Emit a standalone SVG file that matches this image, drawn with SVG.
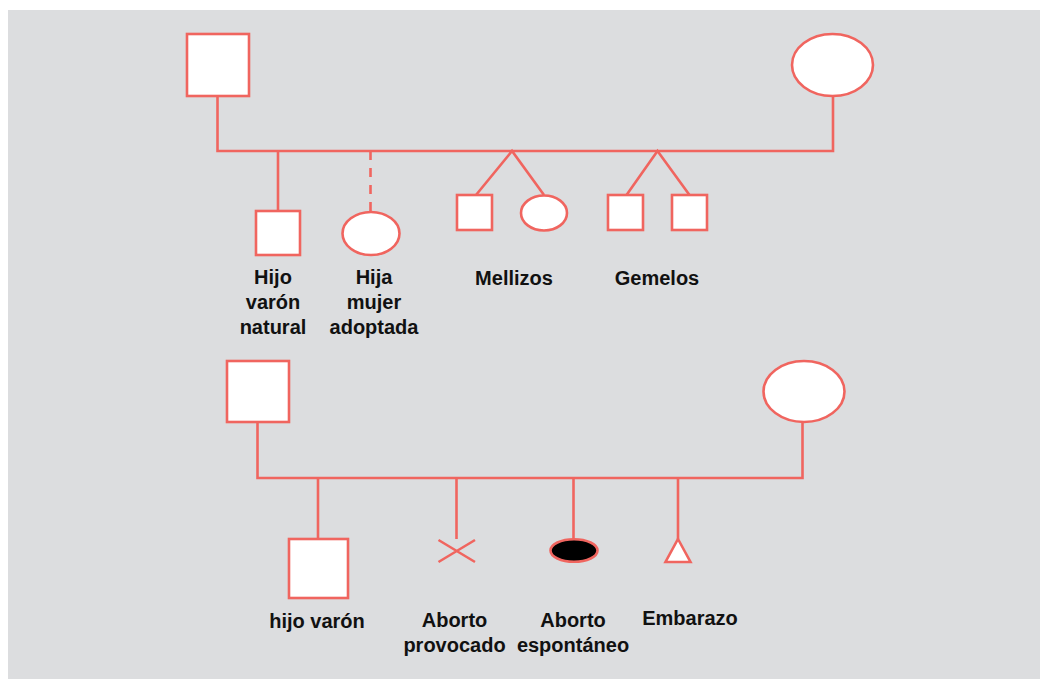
<svg xmlns="http://www.w3.org/2000/svg" width="1040" height="679" viewBox="0 0 1040 679">
<style>
.s{fill:#ffffff;stroke:#F0655F;stroke-width:2.6}
.c{fill:none;stroke:#F0655F;stroke-width:2.6}
.t{font-family:"Liberation Sans",Arial,sans-serif;font-weight:bold;font-size:20px;fill:#111111;text-anchor:middle}
</style>
<rect x="0" y="0" width="1040" height="679" fill="#ffffff"/>
<rect x="8" y="10" width="1032" height="669" fill="#DCDDDF"/>
<g id="connectors">
<polyline class="c" points="217.5,96 217.5,151 833,151 833,96"/>
<line class="c" x1="278" y1="151" x2="278" y2="211"/>
<line class="c" x1="370.5" y1="151" x2="370.5" y2="211" stroke-dasharray="9 8"/>
<polyline class="c" points="476,195 512,151 544,195"/>
<polyline class="c" points="626.5,195 657.5,151 689.5,195"/>
<polyline class="c" points="257.5,423 257.5,478 802.5,478 802.5,422"/>
<line class="c" x1="318" y1="478" x2="318" y2="539"/>
<line class="c" x1="456.5" y1="478" x2="456.5" y2="539"/>
<line class="c" x1="573.5" y1="478" x2="573.5" y2="539"/>
<line class="c" x1="678" y1="478" x2="678" y2="539"/>
</g>
<g id="father1"><rect class="s" x="187" y="34" width="62" height="62"/></g>
<g id="mother1"><ellipse class="s" cx="832.5" cy="65" rx="40.5" ry="31"/></g>
<g id="hijo-natural"><rect class="s" x="256" y="211" width="44" height="44"/>
<text class="t" x="273" y="284">Hijo</text><text class="t" x="273" y="309">varón</text><text class="t" x="273" y="334">natural</text></g>
<g id="hija-adoptada"><ellipse class="s" cx="371" cy="233.5" rx="28.5" ry="21.5"/>
<text class="t" x="374" y="284">Hija</text><text class="t" x="374" y="309">mujer</text><text class="t" x="374" y="334">adoptada</text></g>
<g id="mellizos"><rect class="s" x="457" y="195" width="35" height="35"/><ellipse class="s" cx="544" cy="213" rx="23" ry="17.5"/>
<text class="t" x="514" y="285">Mellizos</text></g>
<g id="gemelos"><rect class="s" x="608" y="195" width="35" height="35"/><rect class="s" x="672" y="195" width="35" height="35"/>
<text class="t" x="657" y="285">Gemelos</text></g>
<g id="father2"><rect class="s" x="227" y="361" width="62" height="61"/></g>
<g id="mother2"><ellipse class="s" cx="804" cy="391.5" rx="40.5" ry="30.5"/></g>
<g id="hijo-varon"><rect class="s" x="289" y="539" width="59" height="59"/>
<text class="t" x="317" y="628">hijo varón</text></g>
<g id="aborto-provocado"><path class="c" d="M438.5,540 L475,562 M438.5,562 L475,540"/>
<text class="t" x="454.5" y="627">Aborto</text><text class="t" x="454.5" y="652">provocado</text></g>
<g id="aborto-espontaneo"><ellipse cx="574" cy="550.5" rx="23.5" ry="11.3" fill="#000000" stroke="#F0655F" stroke-width="2.6"/>
<text class="t" x="573" y="627">Aborto</text><text class="t" x="573" y="652">espontáneo</text></g>
<g id="embarazo"><polygon class="s" points="678,539 690.5,562 665.5,562"/>
<text class="t" x="690" y="625">Embarazo</text></g>
</svg>
